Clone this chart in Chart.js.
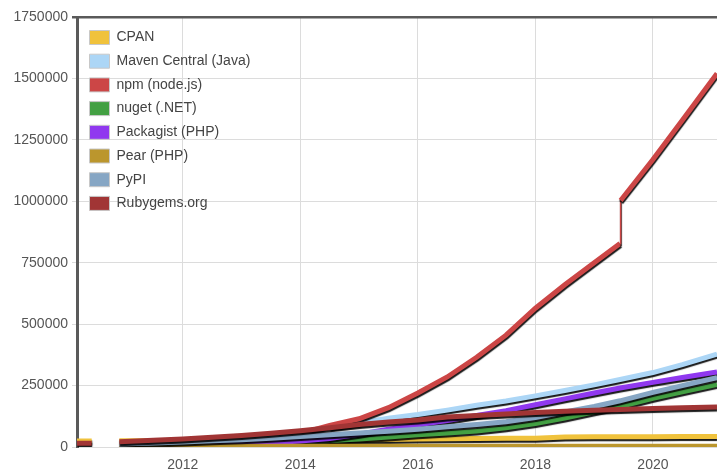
<!DOCTYPE html>
<html>
<head>
<meta charset="utf-8">
<script src="https://cdn.jsdelivr.net/npm/chart.js@4/dist/chart.umd.min.js"></script>
<style>
  body { margin: 0; background: #fff; }
  #caixa { width: 717px; height: 472px; }
</style>
</head>
<body>
<div id="caixa"><canvas id="grafico1" width="717" height="472"></canvas></div>
<script>
//Gráfico de Linha - módulos por repositório

var anos = [2010.2, 2010.45, 2010.7, 2010.92, 2011.5, 2012, 2012.5, 2013, 2013.5, 2014, 2014.5, 2015, 2015.5,
  2016, 2016.5, 2017, 2017.5, 2018, 2018.5, 2019, 2019.44, 2019.45, 2020, 2020.5, 2021.09];

var nomes = ["CPAN", "Maven Central (Java)", "npm (node.js)", "nuget (.NET)", "Packagist (PHP)", "Pear (PHP)", "PyPI", "Rubygems.org"];
var cores = ["#f0c23c", "#acd6f6", "#cc4646", "#43a043", "#9038ef", "#bb962d", "#86a6c4", "#a13535"];

var cpan = [24000, 24500, null, 25000, 25500, 26000, 26500, 27000, 27500, 28000, 28500, 29000, 31000,
  33000, 34000, 35000, 35500, 36000, 41000, 41500, 41500, 41500, 42000, 42500, 43000];
var maven = [null, null, null, null, null, null, null, null, null, null, 80000, 98000, 117000,
  132000, 150000, 170000, 187000, 208000, 230000, 253000, 275000, 275000, 303000, 335000, 378000];
var npm = [null, null, null, 2000, 5000, 9000, 15000, 24000, 36000, 55000, 88000, 115000, 160000,
  220000, 285000, 365000, 455000, 565000, 660000, 750000, 828000, 1003000, 1170000, 1330000, 1520000];
var nuget = [null, null, null, null, 2000, 4000, 7000, 11000, 15000, 20000, 26000, 33000, 41000,
  50000, 57000, 65000, 78000, 95000, 118000, 143000, 165000, 165000, 198000, 225000, 255000];
var packagist = [null, null, null, null, null, 3000, 6000, 11000, 17000, 24000, 35000, 52000, 72000,
  90000, 108000, 128000, 148000, 172000, 196000, 220000, 240000, 240000, 263000, 283000, 305000];
var pear = [null, null, null, 2500, 2600, 2700, 2800, 2900, 3000, 3000, 3100, 3100, 3200,
  3200, 3300, 3300, 3300, 3400, 3400, 3400, 3500, 3500, 3500, 3500, 3500];
var pypi = [null, null, null, 12000, 16000, 20000, 25000, 30000, 36000, 43000, 50000, 57000, 64000,
  72000, 82000, 92000, 103000, 120000, 143000, 165000, 188000, 188000, 222000, 250000, 282000];
var rubygems = [15000, 15500, null, 21000, 27000, 33000, 40000, 47000, 56000, 66000, 78000, 92000, 102000,
  110000, 122000, 128000, 134000, 140000, 145000, 150000, 153000, 153000, 157000, 160000, 163000];

var series = [cpan, maven, npm, nuget, packagist, pear, pypi, rubygems];

var ticksX = [2012, 2014, 2016, 2018, 2020];
var ticksY = [0, 250000, 500000, 750000, 1000000, 1250000, 1500000, 1750000];

var datasets = [];
for (let i = 0; i < series.length; i++) {
  datasets.push({
    label: nomes[i],
    data: series[i].map((v, j) => ({ x: anos[j], y: v })),
    borderColor: cores[i],
    backgroundColor: cores[i],
    borderWidth: 5,
    pointRadius: 0,
    pointHoverRadius: 0,
    tension: 0,
    order: series.length - i,
    // salto quase vertical (npm) fica fino
    segment: {
      borderWidth: (ctx) => (ctx.p1.parsed.y - ctx.p0.parsed.y) > 100000 && (ctx.p1.parsed.x - ctx.p0.parsed.x) < 0.05 ? 1.5 : undefined
    }
  });
}

// sombra preta embaixo das linhas
const sombra = {
  id: 'sombra',
  beforeDatasetsDraw(chart) {
    const c = chart.ctx;
    c.save();
    c.shadowColor = 'rgba(0,0,0,0.9)';
    c.shadowBlur = 1;
    c.shadowOffsetX = 0.5;
    c.shadowOffsetY = 2;
  },
  afterDatasetsDraw(chart) {
    chart.ctx.restore();
  }
};

// legenda dentro da área do gráfico, um pouco abaixo do topo
const posLegenda = {
  id: 'posLegenda',
  afterLayout(chart) {
    if (!chart.legend) return;
    chart.legend.top = chart.chartArea.top + 3.8;
    chart.legend.left = chart.chartArea.left + 2.8;
  }
};

const fonte = { family: "'Liberation Sans', Arial, sans-serif", size: 14 };

new Chart(document.getElementById("grafico1"), {
  type: 'line',
  data: { datasets: datasets },
  plugins: [sombra, posLegenda],
  options: {
    responsive: false,
    animation: false,
    devicePixelRatio: 1,
    layout: { padding: { top: 17, right: 0, left: 0, bottom: 0 } },
    plugins: {
      tooltip: { enabled: false },
      legend: {
        position: 'chartArea',
        align: 'start',
        labels: {
          boxWidth: 20,
          boxHeight: 14,
          padding: 9.7,
          color: '#444',
          font: fonte,
          generateLabels: (chart) => chart.data.datasets.map((d, i) => ({
            text: d.label,
            fillStyle: d.backgroundColor,
            strokeStyle: '#c8c8c8',
            lineWidth: 1,
            hidden: false,
            datasetIndex: i,
            fontColor: '#444'
          }))
        }
      }
    },
    scales: {
      x: {
        type: 'linear',
        min: 2010.2,
        max: 2021.09,
        afterBuildTicks: (axis) => { axis.ticks = ticksX.map(v => ({ value: v })); },
        afterFit: (axis) => { axis.height = 25; },
        grid: { color: '#dcdcdc', lineWidth: 1, drawTicks: false },
        border: { display: false },
        ticks: {
          color: '#555',
          font: fonte,
          padding: 10,
          maxRotation: 0,
          callback: (v) => String(v)
        }
      },
      y: {
        min: 0,
        max: 1750000,
        afterBuildTicks: (axis) => { axis.ticks = ticksY.map(v => ({ value: v })); },
        afterFit: (axis) => { axis.width = 77; },
        grid: {
          color: (ctx) => ctx.tick && ctx.tick.value === 1750000 ? '#5a5a5a' : '#dcdcdc',
          lineWidth: (ctx) => ctx.tick && ctx.tick.value === 1750000 ? 2.5 : 1,
          tickLength: 5
        },
        border: { display: true, color: '#5a5a5a', width: 3 },
        ticks: {
          color: '#555',
          font: fonte,
          padding: 4,
          callback: (v) => String(v)
        }
      }
    }
  }
});
</script>
</body>
</html>
